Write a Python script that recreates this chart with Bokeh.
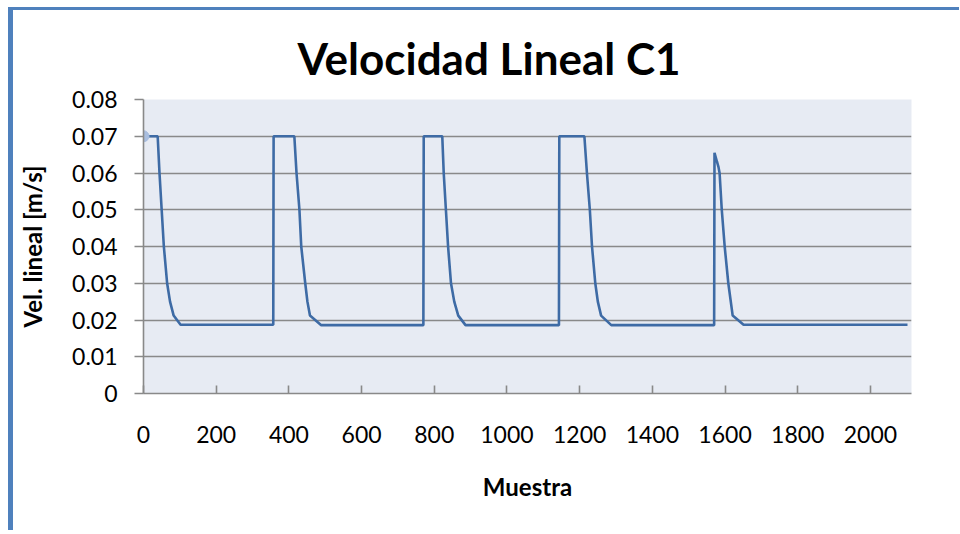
from bokeh.plotting import figure
from bokeh.models import (FixedTicker, CustomJSTickFormatter, Range1d, Title)
from bokeh.embed import file_html
from bokeh.resources import INLINE

# Data (sample index vs. linear velocity)
muestra = [0, 39, 44, 50, 56, 65, 73, 83, 102, 357,
           358, 415, 421, 429, 434, 445, 451, 458, 489, 770,
           771, 822, 826, 832, 838, 846, 855, 866, 886, 1143,
           1144, 1213, 1220, 1228, 1234, 1243, 1250, 1259, 1287, 1570,
           1571, 1578, 1582, 1585, 1591, 1599, 1609, 1621, 1651, 2102]
velocidad = [0.07, 0.07, 0.06, 0.05, 0.04, 0.03, 0.025, 0.0212, 0.0187, 0.0187,
             0.07, 0.07, 0.06, 0.05, 0.04, 0.03, 0.025, 0.0212, 0.0186, 0.0186,
             0.07, 0.07, 0.06, 0.05, 0.04, 0.03, 0.025, 0.0212, 0.0186, 0.0186,
             0.07, 0.07, 0.06, 0.05, 0.04, 0.03, 0.025, 0.0212, 0.0186, 0.0186,
             0.0655, 0.063, 0.0616, 0.06, 0.05, 0.04, 0.03, 0.0212, 0.0187, 0.0187]

x_ticks = [0, 200, 400, 600, 800, 1000, 1200, 1400, 1600, 1800, 2000]
y_ticks = [0, 0.01, 0.02, 0.03, 0.04, 0.05, 0.06, 0.07, 0.08]

FONT = "Lato"
GRID = "#898989"

p = figure(frame_width=768, frame_height=294,
           min_border_left=130, min_border_top=89, min_border_right=48, min_border_bottom=137,
           x_range=Range1d(0, 2113), y_range=Range1d(0, 0.08),
           output_backend="svg", toolbar_location=None)

# chart-area border (left and top edges visible in the reference)
p.styles = {"margin-left": "8px", "margin-top": "7px",
            "border-left": "5px solid #4F81BD", "border-top": "3px solid #4F81BD"}

p.title = Title(text="Velocidad Lineal C1", align="left", offset=154, standoff=32,
                text_font=FONT, text_font_size="44px", text_font_style="bold",
                text_color="#000000")

p.background_fill_color = "#E7EBF3"
p.border_fill_color = "#FFFFFF"
p.outline_line_color = None

# grid
p.xgrid.grid_line_color = None
p.ygrid.grid_line_color = GRID
p.ygrid.grid_line_width = 1.6
p.ygrid.ticker = FixedTicker(ticks=y_ticks)

# x axis
xa = p.xaxis[0]
xa.ticker = FixedTicker(ticks=x_ticks)
xa.axis_label = "Muestra"
xa.axis_label_text_font = FONT
xa.axis_label_text_font_size = "24px"
xa.axis_label_text_font_style = "bold"
xa.axis_label_text_color = "#000000"
xa.axis_label_standoff = 26
xa.major_label_text_font = FONT
xa.major_label_text_font_size = "23px"
xa.major_label_text_color = "#000000"
xa.major_label_standoff = 32
xa.major_tick_in = 8
xa.major_tick_out = 0
xa.minor_tick_in = 0
xa.minor_tick_out = 0
xa.axis_line_color = GRID
xa.axis_line_width = 1.6
xa.major_tick_line_color = GRID
xa.major_tick_line_width = 1.6

# y axis
ya = p.yaxis[0]
ya.ticker = FixedTicker(ticks=y_ticks)
ya.formatter = CustomJSTickFormatter(code="return String(Number(tick.toFixed(2)));")
ya.axis_label = "Vel. lineal [m/s]"
ya.axis_label_text_font = FONT
ya.axis_label_text_font_size = "24px"
ya.axis_label_text_font_style = "bold"
ya.axis_label_text_color = "#000000"
ya.axis_label_standoff = 22
ya.major_label_text_font = FONT
ya.major_label_text_font_size = "23px"
ya.major_label_text_color = "#000000"
ya.major_label_standoff = 17
ya.major_tick_in = 0
ya.major_tick_out = 9
ya.minor_tick_in = 0
ya.minor_tick_out = 0
ya.axis_line_color = GRID
ya.axis_line_width = 1.6
ya.major_tick_line_color = GRID
ya.major_tick_line_width = 1.6

# series
p.line(muestra, velocidad, line_color="#3E6BA5", line_width=2.6)
p.scatter(muestra[:1], velocidad[:1], size=11, fill_color="#A9BEDF", line_color="#A9BEDF")

open("out.html", "w").write(file_html(p, INLINE))
